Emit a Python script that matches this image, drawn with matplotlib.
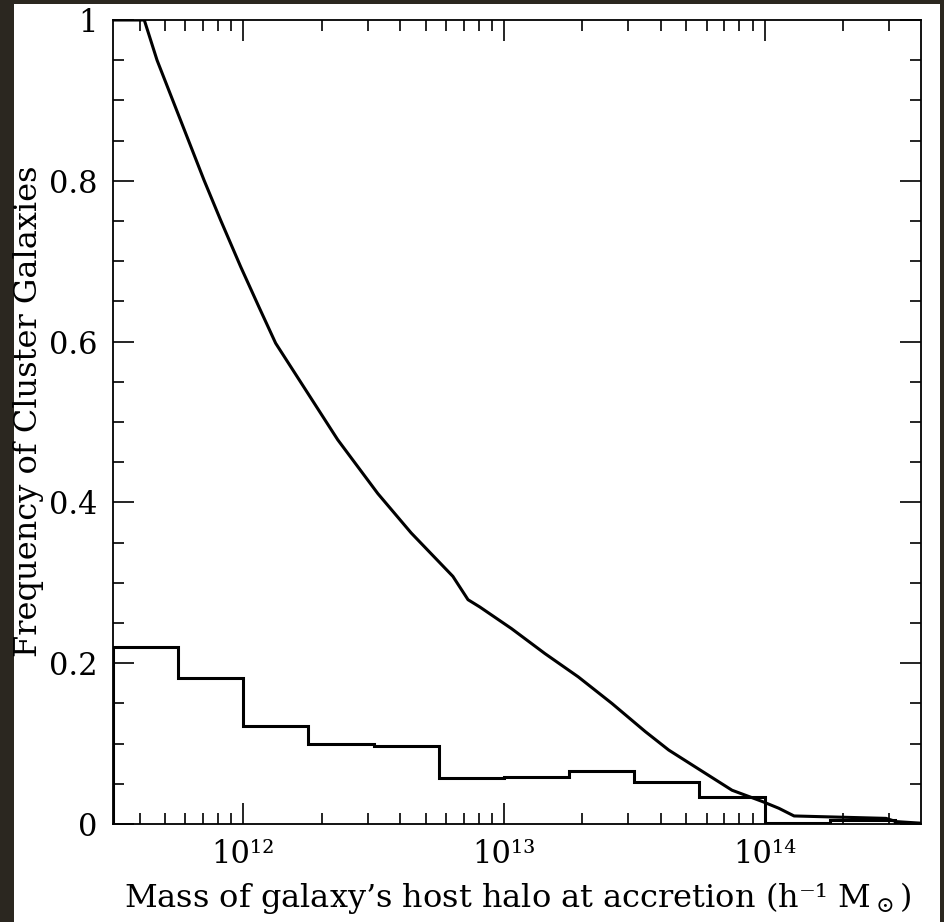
import numpy as np
import matplotlib
matplotlib.use("Agg")
import matplotlib.pyplot as plt
import matplotlib.ticker as ticker
from matplotlib.patches import Rectangle

# cumulative curve (log10 of mass, fraction)
log_mass_curve = [11.45, 11.62, 11.669, 11.849, 11.913, 11.990, 12.060, 12.124,
                  12.362, 12.516, 12.644, 12.804, 12.862, 12.907, 13.029, 13.157,
                  13.285, 13.414, 13.542, 13.632, 13.734, 13.875, 13.991, 14.055,
                  14.113, 14.466, 14.504, 14.60]
frac_curve = [1.0, 1.0, 0.950, 0.801, 0.751, 0.693, 0.643, 0.598,
              0.478, 0.411, 0.362, 0.308, 0.279, 0.270, 0.243, 0.212,
              0.183, 0.150, 0.115, 0.092, 0.071, 0.042, 0.028, 0.0195,
              0.010, 0.007, 0.003, 0.001]

# histogram in 0.25 dex bins
bin_edges_log = [11.5, 11.75, 12.0, 12.25, 12.5, 12.75, 13.0, 13.25,
                 13.5, 13.75, 14.0, 14.25, 14.5, 14.75]
hist_frac = [0.22, 0.182, 0.122, 0.099, 0.097, 0.057, 0.059, 0.066,
             0.052, 0.034, 0.001, 0.005, 0.001]

sup = str.maketrans("0123456789-", "⁰¹²³⁴⁵⁶⁷⁸⁹⁻")

def decade_label(x, _):
    return "10" + str(int(round(np.log10(x)))).translate(sup)

plt.rcParams['font.family'] = ['DejaVu Serif']
plt.rcParams['mathtext.fontset'] = 'dejavuserif'

fig = plt.figure(figsize=(9.45, 9.22), dpi=100, facecolor='#2b2720')
fig.patches.append(Rectangle((14/945, 0), 926/945, 918/922, transform=fig.transFigure,
                             facecolor='white', edgecolor='none', zorder=-5))

ax = fig.add_axes([113/945, 98/922, 808/945, 804/922])
ax.set_zorder(2)
ax.plot(10**np.array(log_mass_curve), frac_curve, color='k', lw=2.2)
ax.stairs(hist_frac, 10**np.array(bin_edges_log), baseline=0, color='k', lw=2.2)

ax.set_xscale('log')
ax.set_xlim(10**11.5, 10**14.6)
ax.set_ylim(0, 1)

ax.xaxis.set_major_locator(ticker.LogLocator(base=10, numticks=10))
ax.xaxis.set_minor_locator(ticker.LogLocator(base=10, subs=np.arange(2, 10), numticks=20))
ax.xaxis.set_major_formatter(ticker.FuncFormatter(decade_label))
ax.xaxis.set_minor_formatter(ticker.NullFormatter())
ax.yaxis.set_major_locator(ticker.MultipleLocator(0.2))
ax.yaxis.set_minor_locator(ticker.MultipleLocator(0.05))
ax.yaxis.set_major_formatter(ticker.FuncFormatter(lambda v, _: "{:g}".format(round(v, 2))))

ax.tick_params(which='both', direction='in', top=True, right=True, width=1.2, colors='k')
ax.tick_params(which='major', length=15)
ax.tick_params(which='minor', length=8)
ax.tick_params(axis='x', which='major', labelsize=22, pad=11)
ax.tick_params(axis='y', which='major', labelsize=22, pad=11)
for s in ax.spines.values():
    s.set_linewidth(1.3)

fig.text(518/945, 1 - 907/922, "Mass of galaxy’s host halo at accretion (h⁻¹ $\\mathrm{M}_\\odot$)",
         ha='center', va='baseline', fontsize=23)
fig.text(29/945, 1 - 411/922, "Frequency of Cluster Galaxies", rotation=90,
         ha='center', va='center', fontsize=23)

fig.savefig("out.png", dpi=100, facecolor=fig.get_facecolor())
